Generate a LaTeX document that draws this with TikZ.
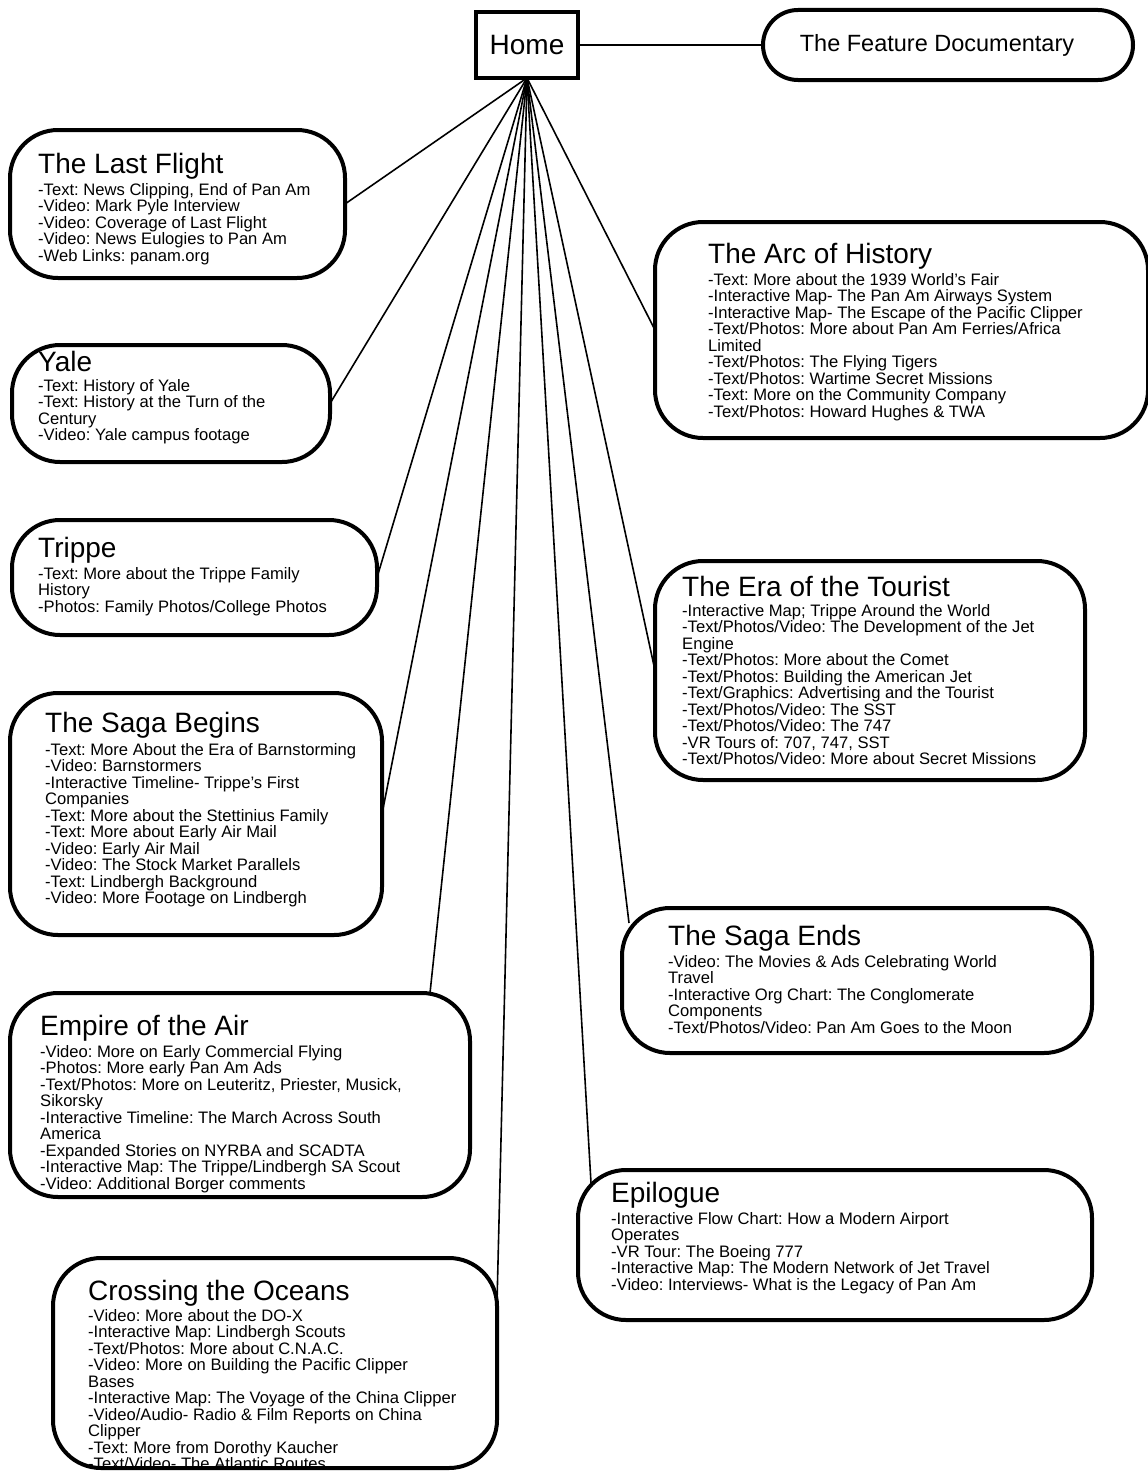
\documentclass[tikz,border=0pt]{standalone}
\usepackage{fontspec}
\setmainfont{Liberation Sans}
\usetikzlibrary{calc}
\frenchspacing
\newcommand\bodyfont{\fontsize{16.6}{16.5}\selectfont}
\newcommand\titlefont{\fontsize{28}{30}\selectfont}
\newcommand\bodylines[1]{\vtop{\bodyfont\frenchspacing\lineskiplimit=-100pt\lineskip=0pt\relax\halign{##\hfil\cr#1\crcr}}}
\begin{document}
\begin{tikzpicture}[x=1pt,y=-1pt,
  topic/.style={draw, line width=4pt, rounded corners=48pt, outer sep=0pt, inner sep=0pt, anchor=north west},
  homebox/.style={draw, line width=4pt, outer sep=0pt, font=\titlefont},
  featbox/.style={draw, line width=4pt, rounded corners=35pt, outer sep=0pt, font=\fontsize{23.5}{26}\selectfont},
  ttl/.style={anchor=base west, inner sep=0pt, font=\titlefont},
  bdy/.style={anchor=base west, inner sep=0pt},
  conn/.style={line width=1.6pt}]
\useasboundingbox (0,0) rectangle (1148,1472);

% nodes: home and documentary
\node[homebox, minimum width=102pt, minimum height=66pt] (home) at (527,45) {Home};
\node[featbox, minimum width=370pt, minimum height=70pt] (feat) at (948,45) {The Feature Documentary\hspace*{22pt}};

% topic boxes
\node[topic, minimum width=335pt, minimum height=148pt] (lf) at (10,130) {};
\node[topic, minimum width=318pt, minimum height=117pt] (yale) at (12,345) {};
\node[topic, minimum width=365pt, minimum height=115pt] (trippe) at (12,520) {};
\node[topic, minimum width=372pt, minimum height=242pt] (sb) at (10,693) {};
\node[topic, minimum width=460pt, minimum height=204pt] (empire) at (10,993) {};
\node[topic, minimum width=444pt, minimum height=210pt] (cross) at (53,1258) {};
\node[topic, minimum width=493pt, minimum height=216pt] (arc) at (655,222) {};
\node[topic, minimum width=430pt, minimum height=219pt] (era) at (655,561) {};
\node[topic, minimum width=470pt, minimum height=145pt] (se) at (622,908) {};
\node[topic, minimum width=514pt, minimum height=150pt] (epi) at (578,1170) {};

% connectors
\draw[conn] (home.east) -- (feat.west);
\draw[conn] (home.south) -- (lf.east);
\draw[conn] (home.south) -- (yale.east);
\draw[conn] (home.south) -- (trippe.east);
\draw[conn] (home.south) -- (sb.east);
\draw[conn] (home.south) -- ($(empire.north east)+(-40,0)$);
\draw[conn] (home.south) -- ($(cross.north east)+(0,45)$);
\draw[conn] (home.south) -- (arc.west);
\draw[conn] (home.south) -- (era.west);
\draw[conn] (home.south) -- ($(se.north west)+(7,15)$);
\draw[conn] (home.south) -- ($(epi.north west)+(13,13)$);

% texts
\node[ttl] (lf-t) at ($(lf.north west)+(28,43)$) {The Last Flight};
\node[bdy] (lf-b) at ($(lf.north west)+(28,65)$) {\bodylines{
-Text: News Clipping, End of Pan Am\cr
-Video: Mark Pyle Interview\cr
-Video: Coverage of Last Flight\cr
-Video: News Eulogies to Pan Am\cr
-Web Links: panam.org}};

\node[ttl] (yale-t) at ($(yale.north west)+(26,26)$) {Yale};
\node[bdy] (yale-b) at ($(yale.north west)+(26,46)$) {\bodylines{
-Text: History of Yale\cr
-Text: History at the Turn of the\cr
Century\cr
-Video: Yale campus footage}};

\node[ttl] (trippe-t) at ($(trippe.north west)+(26,37)$) {Trippe};
\node[bdy] (trippe-b) at ($(trippe.north west)+(26,59)$) {\bodylines{
-Text: More about the Trippe Family\cr
History\cr
-Photos: Family Photos/College Photos}};

\node[ttl] (sb-t) at ($(sb.north west)+(35,39)$) {The Saga Begins};
\node[bdy] (sb-b) at ($(sb.north west)+(35,62)$) {\bodylines{
-Text: More About the Era of Barnstorming\cr
-Video: Barnstormers\cr
-Interactive Timeline- Trippe’s First\cr
Companies\cr
-Text: More about the Stettinius Family\cr
-Text: More about Early Air Mail\cr
-Video: Early Air Mail\cr
-Video: The Stock Market Parallels\cr
-Text: Lindbergh Background\cr
-Video: More Footage on Lindbergh}};

\node[ttl] (empire-t) at ($(empire.north west)+(30,42)$) {Empire of the Air};
\node[bdy] (empire-b) at ($(empire.north west)+(30,64)$) {\bodylines{
-Video: More on Early Commercial Flying\cr
-Photos: More early Pan Am Ads\cr
-Text/Photos: More on Leuteritz, Priester, Musick,\cr
Sikorsky\cr
-Interactive Timeline: The March Across South\cr
America\cr
-Expanded Stories on NYRBA and SCADTA\cr
-Interactive Map: The Trippe/Lindbergh SA Scout\cr
-Video: Additional Borger comments}};

\node[ttl] (cross-t) at ($(cross.north west)+(35,42)$) {Crossing the Oceans};
\node[bdy] (cross-b) at ($(cross.north west)+(35,63)$) {\bodylines{
-Video: More about the DO-X\cr
-Interactive Map: Lindbergh Scouts\cr
-Text/Photos: More about C.N.A.C.\cr
-Video: More on Building the Pacific Clipper\cr
Bases\cr
-Interactive Map: The Voyage of the China Clipper\cr
-Video/Audio- Radio \& Film Reports on China\cr
Clipper\cr
-Text: More from Dorothy Kaucher\cr
-Text/Video- The Atlantic Routes}};

\node[ttl] (arc-t) at ($(arc.north west)+(53,41)$) {The Arc of History};
\node[bdy] (arc-b) at ($(arc.north west)+(53,63)$) {\bodylines{
-Text: More about the 1939 World’s Fair\cr
-Interactive Map- The Pan Am Airways System\cr
-Interactive Map- The Escape of the Pacific Clipper\cr
-Text/Photos: More about Pan Am Ferries/Africa\cr
Limited\cr
-Text/Photos: The Flying Tigers\cr
-Text/Photos: Wartime Secret Missions\cr
-Text: More on the Community Company\cr
-Text/Photos: Howard Hughes \& TWA}};

\node[ttl] (era-t) at ($(era.north west)+(27,35)$) {The Era of the Tourist};
\node[bdy] (era-b) at ($(era.north west)+(27,55)$) {\bodylines{
-Interactive Map; Trippe Around the World\cr
-Text/Photos/Video: The Development of the Jet\cr
Engine\cr
-Text/Photos: More about the Comet\cr
-Text/Photos: Building the American Jet\cr
-Text/Graphics: Advertising and the Tourist\cr
-Text/Photos/Video: The SST\cr
-Text/Photos/Video: The 747\cr
-VR Tours of: 707, 747, SST\cr
-Text/Photos/Video: More about Secret Missions}};

\node[ttl] (se-t) at ($(se.north west)+(46,37)$) {The Saga Ends};
\node[bdy] (se-b) at ($(se.north west)+(46,59)$) {\bodylines{
-Video: The Movies \& Ads Celebrating World\cr
Travel\cr
-Interactive Org Chart: The Conglomerate\cr
Components\cr
-Text/Photos/Video: Pan Am Goes to the Moon}};

\node[ttl] (epi-t) at ($(epi.north west)+(33,32)$) {Epilogue};
\node[bdy] (epi-b) at ($(epi.north west)+(33,54)$) {\bodylines{
-Interactive Flow Chart: How a Modern Airport\cr
Operates\cr
-VR Tour: The Boeing 777\cr
-Interactive Map: The Modern Network of Jet Travel\cr
-Video: Interviews- What is the Legacy of Pan Am}};
\end{tikzpicture}
\end{document}
